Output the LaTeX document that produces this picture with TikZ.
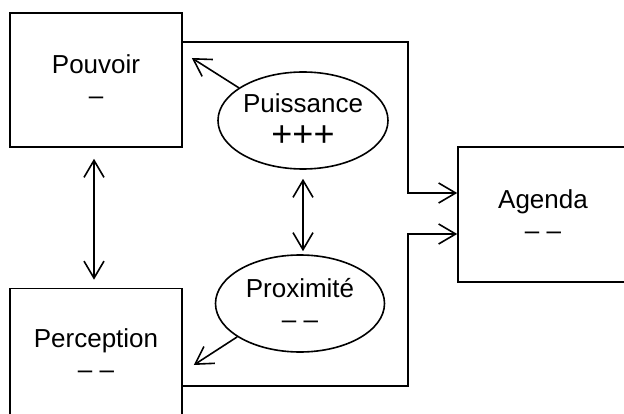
\documentclass[tikz,border=0pt]{standalone}
\usepackage{fontspec}
\setmainfont{Liberation Sans}
\usetikzlibrary{shapes.geometric,arrows.meta,calc}
\begin{document}
\begin{tikzpicture}[x=1pt,y=-1pt,
  txt/.style={align=center,inner sep=0pt,font=\fontsize{26}{31}\selectfont},
  box/.style={txt,draw,line width=1.6pt,minimum width=172pt},
  oval/.style={txt,draw,ellipse,line width=1.6pt},
  conn/.style={line width=1.6pt,-{Straight Barb[length=17pt,width=20pt]}},
  dconn/.style={line width=1.6pt,{Straight Barb[length=17pt,width=20pt]}-{Straight Barb[length=17pt,width=20pt]}}]
\useasboundingbox (0,0) rectangle (624,414);
\clip (0,0) rectangle (624,414);

\node[box,minimum height=134pt] (pouv) at (96,80) {Pouvoir\\–};
\node[box,minimum height=131pt] (perc) at (96,354) {Perception\\– –};
\node[box,minimum width=170pt,minimum height=135pt] (agenda) at (543,214.5) {Agenda\\– –};
\node[oval,minimum width=170pt,minimum height=97pt] (puis) at (303,120.5) {Puissance\\[3pt]{\fontsize{36}{36}\selectfont +++}};
\node[oval,minimum width=169pt,minimum height=97pt] (prox) at (300,303.5) {Proximité\\– –};

\coordinate (vx) at (408,0);
\coordinate (a1) at ([yshift=21.5pt]agenda.west);
\coordinate (a2) at ([yshift=-19.5pt]agenda.west);
\coordinate (t1) at ([xshift=9pt,yshift=22pt]pouv.east);
\coordinate (t2) at ([xshift=11pt,yshift=-11pt]perc.east);

\draw[conn] ([yshift=38pt]pouv.east) -| (vx |- a1) -- (a1);
\draw[conn] ([yshift=-32pt]perc.east) -| (vx |- a2) -- (a2);
\draw[conn] (puis.153) -- (t1);
\draw[conn] (prox.208) -- (t2);
\draw[dconn] ([xshift=-2pt,yshift=-11pt]pouv.south) -- ([xshift=-2pt,yshift=8pt]perc.north);
\draw[dconn] ([yshift=-9pt]puis.south) -- ([yshift=3pt]puis.south |- prox.north);
\end{tikzpicture}
\end{document}
